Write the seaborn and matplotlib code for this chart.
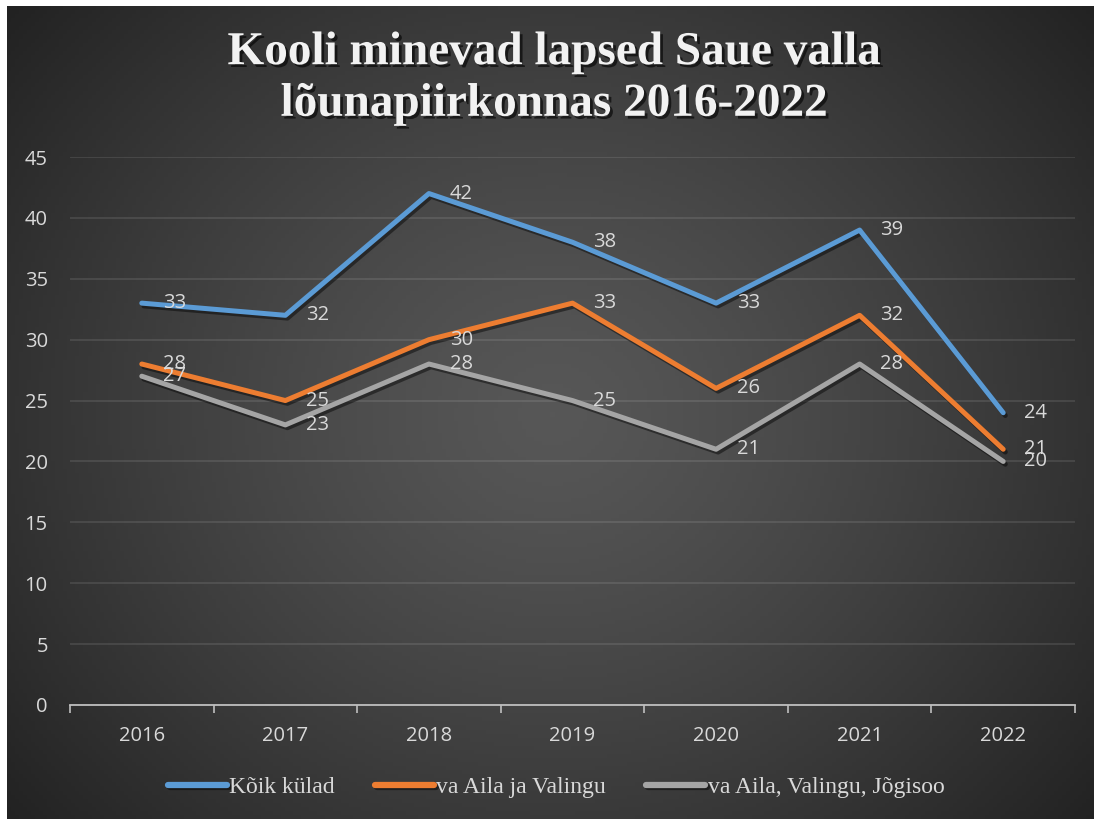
import numpy as np
import pandas as pd
import matplotlib
matplotlib.use("Agg")
import matplotlib.pyplot as plt
import matplotlib.patheffects as pe
import seaborn as sns

# -- andmed
aastad = ["2016", "2017", "2018", "2019", "2020", "2021", "2022"]
koik_kulad = [33, 32, 42, 38, 33, 39, 24]
va_aila_valingu = [28, 25, 30, 33, 26, 32, 21]
va_aila_valingu_jogisoo = [27, 23, 28, 25, 21, 28, 20]
seeriad = ["Kõik külad", "va Aila ja Valingu", "va Aila, Valingu, Jõgisoo"]
varvid = ["#5B9BD5", "#ED7D31", "#A5A5A5"]
pealkiri = "Kooli minevad lapsed Saue valla\nlõunapiirkonnas 2016-2022"

df = pd.DataFrame({
    "aasta": aastad * 3,
    "lapsi": koik_kulad + va_aila_valingu + va_aila_valingu_jogisoo,
    "seeria": [s for s in seeriad for _ in aastad],
})

sns.set_theme(style="dark")
plt.rcParams["font.family"] = ["Open Sans", "DejaVu Sans"]

W, H = 1094, 819
fig = plt.figure(figsize=(W / 100, H / 100), dpi=100, facecolor="white")

# -- taust: radiaalne gradient
bg = fig.add_axes([7 / W, 0, 1 - 7 / W, 1 - 6 / H], zorder=-10)
yy, xx = np.mgrid[0:200, 0:270]
r = np.sqrt(((xx - 135) / 135) ** 2 + ((yy - 100) / 120) ** 2) / 1.3
r = np.clip(r, 0, 1)
c_kesk, c_serv = 0x57 / 255, 0x22 / 255
img = c_kesk + (c_serv - c_kesk) * r ** 1.3
bg.imshow(np.dstack([img, img, img]), aspect="auto", extent=[0, 1, 0, 1], origin="upper")
bg.set_axis_off()

ax = fig.add_axes([70 / W, 1 - 705 / H, (1075 - 70) / W, (705 - 157) / H])
ax.set_facecolor("none")

sns.lineplot(data=df, x="aasta", y="lapsi", hue="seeria", hue_order=seeriad,
             palette=varvid, linewidth=3.6, ax=ax, legend=True, sort=False)

for ln in ax.lines:
    ln.set_solid_capstyle("round")
    ln.set_solid_joinstyle("round")
    ln.set_path_effects([pe.SimpleLineShadow(offset=(1.5, -2), shadow_color="black", alpha=0.45),
                         pe.Normal()])

# -- andmesildid
for vaartused in [koik_kulad, va_aila_valingu, va_aila_valingu_jogisoo]:
    for i, v in enumerate(vaartused):
        ax.annotate(str(v), (i, v), xytext=(15, 0), textcoords="offset points",
                    ha="left", va="center", fontsize=14.5, color="#D9D9D9")

ax.set_xlim(-0.5, len(aastad) - 0.5)
ax.set_ylim(0, 45)
ax.set_yticks(range(0, 46, 5))
ax.set_xlabel("")
ax.set_ylabel("")
ax.grid(axis="y", color="white", alpha=0.13, linewidth=1.1)
ax.grid(axis="x", visible=False)
for s in ["left", "right", "top"]:
    ax.spines[s].set_visible(False)
ax.spines["bottom"].set_color("#BFBFBF")
ax.spines["bottom"].set_linewidth(1.3)
ax.set_xticks(np.arange(-0.5, len(aastad), 1), minor=True)
ax.tick_params(axis="x", which="major", bottom=True, length=0, pad=15, labelsize=14.5,
               labelcolor="#D9D9D9")
ax.tick_params(axis="x", which="minor", bottom=True, length=6, width=1.2, color="#BFBFBF",
               direction="out")
ax.tick_params(axis="y", length=0, pad=16, labelsize=14.5, labelcolor="#D9D9D9")

# -- legend
handles, labels = ax.get_legend_handles_labels()
ax.get_legend().remove()
for h in handles:
    h.set_linewidth(4.5)
    h.set_solid_capstyle("round")
fig.legend(handles, labels, loc="center", bbox_to_anchor=(556 / W, 1 - 787 / H), ncol=3,
           frameon=False, handlelength=2.5, handletextpad=0.1, columnspacing=1.7,
           prop={"family": "Liberation Serif", "size": 17}, labelcolor="#D9D9D9")

# -- pealkiri
fig.text(554 / W, 1 - 79 / H, pealkiri, ha="center", va="center", fontsize=34,
         fontweight="bold", family="Liberation Serif", color="#F2F2F2", linespacing=1.3,
         path_effects=[pe.withSimplePatchShadow(offset=(2, -2), shadow_rgbFace="black", alpha=0.6)])

fig.savefig("out.png", dpi=100, facecolor="white")
